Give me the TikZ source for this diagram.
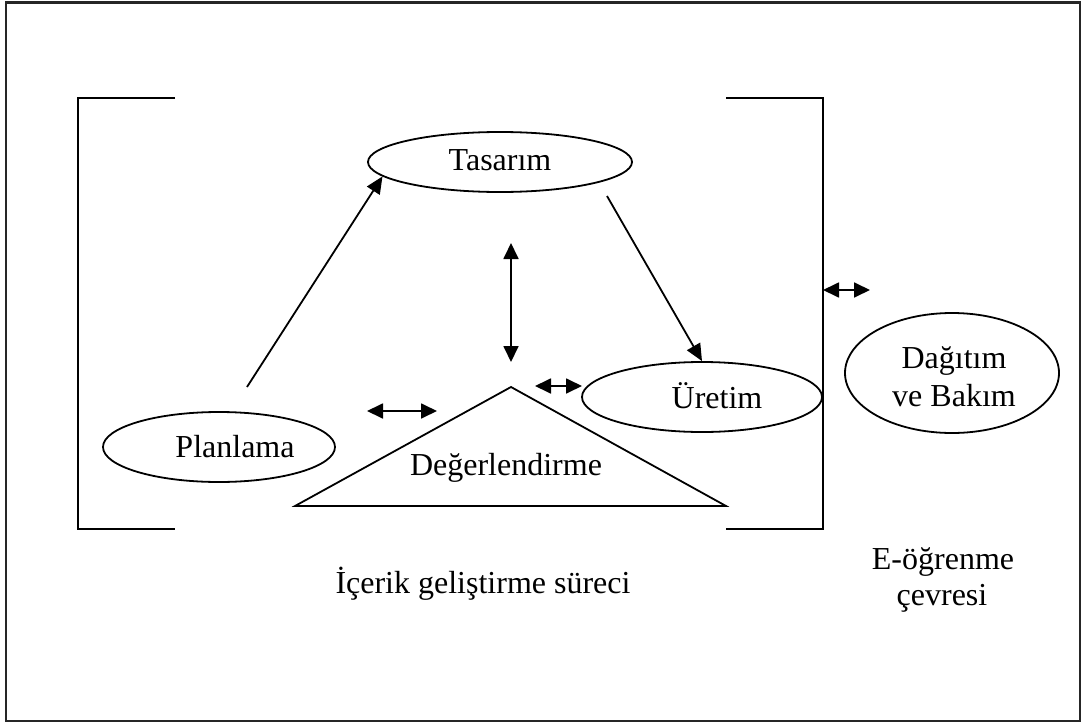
\documentclass[tikz,border=0pt]{standalone}
\usepackage{fontspec}
\setmainfont{Liberation Serif}
\usetikzlibrary{shapes.geometric,arrows.meta}
\begin{document}
\begin{tikzpicture}[x=1pt,y=-1pt,
  line width=1.8pt,
  lbl/.style={anchor=base,inner sep=0pt,font=\fontsize{32}{36}\selectfont},
  oval/.style={draw,ellipse,inner sep=0pt},
  tip/.style={-{Triangle[length=17pt,width=15pt]}},
  twotip/.style={{Triangle[length=16pt,width=15pt]}-{Triangle[length=16pt,width=15pt]}},
  bracket/.style={line width=1.8pt}]
\useasboundingbox (0,0) rectangle (1087,725);
% outer frame
\draw[line width=2.6pt,black!85] (6,2.5) rectangle (1080,721);

% brackets around the development process
\draw[bracket] (175,98) -- (78,98) -- (78,529) -- (175,529);
\draw[bracket] (726,98) -- (823,98) -- (823,529) -- (726,529);

% process stages
\node[oval,minimum width=264pt,minimum height=60pt] (tas) at (500,162) {};
\node[oval,minimum width=232pt,minimum height=70pt] (plan) at (219,447) {};
\node[oval,minimum width=240pt,minimum height=70pt] (ure) at (702,397) {};
\node[oval,minimum width=214pt,minimum height=120pt] (dag) at (952,373) {};
\draw (295,506) coordinate (triL) -- (511,387) coordinate (triT) -- (726,506) coordinate (triR) -- cycle;

\node[lbl] (tastxt) at (500,170) {Tasarım};
\node[lbl] (plantxt) at (235,457) {Planlama};
\node[lbl] (uretxt) at (717,408) {Üretim};
\node[lbl] (degtxt) at (506,475) {Değerlendirme};
\node[lbl] (dagtxt1) at (954,368) {Dağıtım};
\node[lbl] (dagtxt2) at (954,406) {ve Bakım};
\node[lbl] (ictxt) at (483,593) {İçerik geliştirme süreci};
\node[lbl] (eotxt1) at (943,569) {E-öğrenme};
\node[lbl] (eotxt2) at (942,605) {çevresi};

% flow between stages
\coordinate (planout) at (247,387);
\draw[tip] (planout) -- (tas.187.6);
\coordinate (tasout) at (607,196);
\draw[tip] (tasout) -- (ure.north);

% evaluation links
\coordinate (vtop) at (511,243);
\coordinate (vbot) at (511,362);
\draw[twotip] (vtop) -- (vbot);
\coordinate (hl1) at (367,411);
\coordinate (hl2) at (437,411);
\draw[twotip] (hl1) -- (hl2);
\coordinate (hr1) at (535,386);
\coordinate (hr2) at (582,386);
\draw[twotip] (hr1) -- (hr2);

% link to the e-learning environment
\coordinate (br1) at (823,290);
\coordinate (br2) at (870,290);
\draw[twotip] (br1) -- (br2);
\end{tikzpicture}
\end{document}
